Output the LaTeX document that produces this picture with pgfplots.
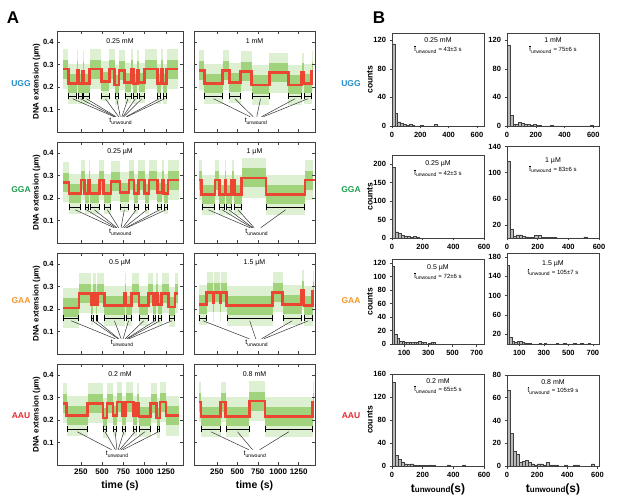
\documentclass[border=0pt]{standalone}
\usepackage{pgfplots}
\pgfplotsset{compat=1.18}
\usepackage{pgfplotstable}
\usepackage{fontspec}
\setmainfont{Liberation Sans}

\definecolor{cloudA}{RGB}{222,240,210}
\definecolor{cloudB}{RGB}{160,211,124}
\definecolor{trred}{RGB}{234,70,50}
\definecolor{cUGG}{RGB}{35,140,200}
\definecolor{cGGA}{RGB}{30,160,80}
\definecolor{cGAA}{RGB}{245,150,40}
\definecolor{cAAU}{RGB}{230,40,45}
\newcommand\fs[1]{\fontsize{#1}{#1}\selectfont}

% step traces: time (s), mean extension (um)
\pgfplotstableread[row sep=\\]{t z\\ 40 0.28\\ 104 0.215\\ 203 0.275\\ 222 0.215\\ 270 0.27\\ 281 0.215\\ 352 0.28\\ 491 0.225\\ 586 0.28\\ 648 0.21\\ 696 0.275\\ 763 0.22\\ 843 0.28\\ 866 0.215\\ 914 0.275\\ 933 0.22\\ 1000 0.28\\ 1150 0.215\\ 1190 0.28\\ 1210 0.215\\ 1257 0.28\\ 1391 0.28\\}\ua
\pgfplotstableread[row sep=\\]{t z\\ 35 0.275\\ 98 0.215\\ 321 0.275\\ 402 0.22\\ 541 0.27\\ 676 0.21\\ 891 0.265\\ 1123 0.21\\ 1287 0.265\\ 1315 0.215\\ 1409 0.27\\ 1429 0.27\\}\ub
\pgfplotstableread[row sep=\\]{t z\\ 41 0.27\\ 112 0.22\\ 254 0.28\\ 293 0.22\\ 341 0.28\\ 352 0.22\\ 467 0.28\\ 518 0.22\\ 606 0.275\\ 708 0.225\\ 814 0.28\\ 873 0.22\\ 925 0.28\\ 1000 0.22\\ 1051 0.28\\ 1150 0.225\\ 1201 0.28\\ 1221 0.22\\ 1276 0.28\\ 1403 0.28\\}\ga
\pgfplotstableread[row sep=\\]{t z\\ 35 0.28\\ 64 0.215\\ 227 0.28\\ 279 0.215\\ 349 0.28\\ 361 0.215\\ 431 0.28\\ 463 0.215\\ 553 0.29\\ 851 0.215\\ 1328 0.28\\ 1429 0.285\\}\gb
\pgfplotstableread[row sep=\\]{t z\\ 45 0.205\\ 230 0.27\\ 373 0.22\\ 396 0.27\\ 428 0.22\\ 444 0.27\\ 526 0.215\\ 763 0.27\\ 775 0.215\\ 846 0.27\\ 933 0.215\\ 1044 0.27\\ 1103 0.22\\ 1134 0.27\\ 1158 0.22\\ 1198 0.27\\ 1281 0.21\\ 1355 0.27\\ 1394 0.27\\}\aa
\pgfplotstableread[row sep=\\]{t z\\ 35 0.22\\ 125 0.275\\ 202 0.23\\ 212 0.275\\ 288 0.23\\ 298 0.275\\ 370 0.215\\ 933 0.275\\ 1055 0.22\\ 1287 0.285\\ 1315 0.215\\ 1422 0.28\\ 1438 0.28\\}\ab
\pgfplotstableread[row sep=\\]{t z\\ 45 0.275\\ 85 0.22\\ 329 0.275\\ 511 0.21\\ 558 0.275\\ 629 0.22\\ 677 0.28\\ 736 0.22\\ 775 0.28\\ 866 0.22\\ 905 0.275\\ 933 0.215\\ 1071 0.275\\ 1142 0.21\\ 1181 0.28\\ 1249 0.22\\ 1406 0.22\\}\ra
\pgfplotstableread[row sep=\\]{t z\\ 35 0.28\\ 56 0.215\\ 297 0.28\\ 358 0.215\\ 646 0.285\\ 838 0.215\\ 1422 0.28\\ 1438 0.28\\}\rb

% unwound intervals (start, end)
\pgfplotstableread[row sep=\\]{a b\\ 104 203\\ 222 270\\ 281 352\\ 491 586\\ 648 696\\ 763 843\\ 866 914\\ 933 1000\\ 1150 1190\\ 1210 1257\\}\uaI
\pgfplotstableread[row sep=\\]{a b\\ 98 321\\ 402 541\\ 676 891\\ 1123 1287\\ 1315 1409\\}\ubI
\pgfplotstableread[row sep=\\]{a b\\ 112 254\\ 293 341\\ 352 467\\ 518 606\\ 708 814\\ 873 925\\ 1000 1051\\ 1150 1201\\ 1221 1276\\}\gaI
\pgfplotstableread[row sep=\\]{a b\\ 64 227\\ 279 349\\ 361 431\\ 463 553\\ 851 1328\\}\gbI
\pgfplotstableread[row sep=\\]{a b\\ 45 230\\ 373 396\\ 428 444\\ 526 763\\ 775 846\\ 933 1044\\ 1103 1134\\ 1158 1198\\ 1281 1355\\}\aaI
\pgfplotstableread[row sep=\\]{a b\\ 35 125\\ 370 933\\ 1055 1287\\ 1315 1422\\}\abI
\pgfplotstableread[row sep=\\]{a b\\ 85 329\\ 511 558\\ 629 677\\ 736 775\\ 866 905\\ 933 1071\\ 1142 1181\\}\raI
\pgfplotstableread[row sep=\\]{a b\\ 56 297\\ 358 646\\ 838 1422\\}\rbI

% green cloud = wide horizontal strokes per level segment, red = mean level
\newcommand\trace[1]{%
  \addplot[jump mark left, cloudA, line width=40pt, line cap=butt] table[x=t, y=z]{#1};
  \addplot[jump mark left, cloudB, line width=19pt, line cap=butt] table[x=t, y=z]{#1};
  \addplot[const plot, trred, line width=2.6pt] table[x=t, y=z]{#1};
}
\newcommand\bars[1]{%
  \addplot[black, line width=0.7pt, |-|, quiver={u=\thisrow{b}-\thisrow{a}, v=0}]
    table[x=a, y expr=0.16]{#1};
}

\pgfplotsset{
  every axis/.append style={/pgf/number format/assume math mode=true, /pgf/number format/1000 sep={}},
  tr/.style={scale only axis, height=101pt, xmin=-30, xmax=1450, ymin=0, ymax=0.45,
    xtick={250,500,750,1000,1250}, ytick={0.1,0.2,0.3,0.4},
    tick align=inside, major tick length=3pt,
    axis line style={black!75, line width=0.7pt}, every tick/.style={black!75, line width=0.5pt},
    tick label style={font=\fs{7.5}\bfseries}, x tick label style={font=\fs{8}\bfseries}, axis on top,
    ylabel shift=-4pt,
    ylabel style={font=\fs{8}\bfseries}, xlabel style={font=\fs{10.5}\bfseries}},
  hs/.style={scale only axis, width=92pt, xmin=0, ymin=0,
    tick align=outside, xtick pos=bottom, ytick pos=left, major tick length=2.5pt,
    axis line style={black!75, line width=0.6pt}, every tick/.style={black!75, line width=0.5pt},
    tick label style={font=\fs{7.5}\bfseries}, ylabel shift=-6pt,
    ylabel style={font=\fs{8.5}\bfseries}, xlabel style={font=\fs{12}\bfseries}},
  hist/.style={ybar interval, fill=gray!55, draw=black!75, line width=0.35pt},
}
\tikzset{
  fan/.style={black!80, line width=0.5pt},
  lab/.style={font=\fs{7}},
  tau/.style={font=\fs{6}},
}
\newcommand\tun{t\textsubscript{unwound}}
\newcommand\taubar{\(\overline{\mbox{t}}\)\textsubscript{unwound}}

\begin{document}
\begin{tikzpicture}
\useasboundingbox (0,0) rectangle (617pt,503pt);

\node[font=\fs{17}\bfseries] at (13pt,485pt) {A};
\node[font=\fs{17}\bfseries] at (379pt,485pt) {B};
\foreach \n/\c/\y in {UGG/cUGG/419, GGA/cGGA/313, GAA/cGAA/202, AAU/cAAU/87}{
  \node[font=\fs{8.5}\bfseries, text=\c] at (21pt,\y pt) {\n};
  \node[font=\fs{8.5}\bfseries, text=\c] at (351pt,\y pt) {\n};
}

% ---- A: time traces ----
\begin{axis}[tr, at={(57pt,371pt)}, width=126pt, xticklabels={}, ylabel={DNA extension (µm)}]
\trace{\ua}
\bars{\uaI}
\pgfplotsinvokeforeach{153.5,246,316.5,538.5,672,803,890,966.5,1170,1233.5}{\draw[fan] (axis cs:#1,0.148) -- (axis cs:{720+0.14*(#1-720)},0.068);}
\node[lab] at (axis cs:720,0.048) {\tun};
\node[lab] at (rel axis cs:0.5,0.9) {0.25 mM};
\end{axis}
\begin{axis}[tr, at={(194pt,371pt)}, width=121pt, xticklabels={}, yticklabels={}]
\trace{\ub}
\bars{\ubI}
\pgfplotsinvokeforeach{209.5,471.5,783.5,1205,1362}{\draw[fan] (axis cs:#1,0.148) -- (axis cs:{730+0.14*(#1-730)},0.068);}
\node[lab] at (axis cs:730,0.048) {\tun};
\node[lab] at (rel axis cs:0.5,0.9) {1 mM};
\end{axis}

\begin{axis}[tr, at={(57pt,260pt)}, width=126pt, xticklabels={}, ylabel={DNA extension (µm)}]
\trace{\ga}
\bars{\gaI}
\pgfplotsinvokeforeach{183,317,409.5,562,761,899,1025.5,1175.5,1248.5}{\draw[fan] (axis cs:#1,0.148) -- (axis cs:{716+0.14*(#1-716)},0.068);}
\node[lab] at (axis cs:716,0.048) {\tun};
\node[lab] at (rel axis cs:0.5,0.9) {0.25 µM};
\end{axis}
\begin{axis}[tr, at={(194pt,260pt)}, width=121pt, xticklabels={}, yticklabels={}]
\trace{\gb}
\bars{\gbI}
\pgfplotsinvokeforeach{145.5,314,396,508,1089.5}{\draw[fan] (axis cs:#1,0.148) -- (axis cs:{737+0.14*(#1-737)},0.068);}
\node[lab] at (axis cs:737,0.048) {\tun};
\node[lab] at (rel axis cs:0.5,0.9) {1 µM};
\end{axis}

\begin{axis}[tr, at={(57pt,149pt)}, width=126pt, xticklabels={}, ylabel={DNA extension (µm)}]
\trace{\aa}
\bars{\aaI}
\pgfplotsinvokeforeach{137.5,384.5,436,644.5,810.5,988.5,1118.5,1178,1318}{\draw[fan] (axis cs:#1,0.148) -- (axis cs:{736+0.14*(#1-736)},0.068);}
\node[lab] at (axis cs:736,0.048) {\tun};
\node[lab] at (rel axis cs:0.5,0.9) {0.5 µM};
\end{axis}
\begin{axis}[tr, at={(194pt,149pt)}, width=121pt, xticklabels={}, yticklabels={}]
\trace{\ab}
\bars{\abI}
\pgfplotsinvokeforeach{80,651.5,1171,1368.5}{\draw[fan] (axis cs:#1,0.148) -- (axis cs:{737+0.14*(#1-737)},0.068);}
\node[lab] at (axis cs:737,0.048) {\tun};
\node[lab] at (rel axis cs:0.5,0.9) {1.5 µM};
\end{axis}

\begin{axis}[tr, at={(57pt,38pt)}, width=126pt, ylabel={DNA extension (µm)}, xlabel={time (s)}]
\trace{\ra}
\bars{\raI}
\pgfplotsinvokeforeach{207,534.5,653,755.5,885.5,1002,1161.5}{\draw[fan] (axis cs:#1,0.148) -- (axis cs:{677+0.14*(#1-677)},0.068);}
\node[lab] at (axis cs:677,0.048) {\tun};
\node[lab] at (rel axis cs:0.5,0.9) {0.2 mM};
\end{axis}
\begin{axis}[tr, at={(194pt,38pt)}, width=121pt, yticklabels={}, xlabel={time (s)}]
\trace{\rb}
\bars{\rbI}
\pgfplotsinvokeforeach{176.5,502,1130}{\draw[fan] (axis cs:#1,0.148) -- (axis cs:{716+0.14*(#1-716)},0.068);}
\node[lab] at (axis cs:716,0.048) {\tun};
\node[lab] at (rel axis cs:0.5,0.9) {0.8 mM};
\end{axis}

% ---- B: histograms of unwound times ----
\begin{axis}[hs, at={(392pt,377pt)}, height=93pt, xmax=650, ymax=130, xtick={0,200,400,600}, ytick={0,40,80,120}, ylabel={counts}]
\addplot[hist] coordinates {(0,115)(20,18)(40,6)(60,4)(80,2)(100,1)(120,2)(140,1)(160,0)(180,0)(200,1)(220,0)(240,0)(260,0)(280,0)(300,2)(320,0)};
\node[lab] at (rel axis cs:0.5,0.92) {0.25 mM};
\node[tau] at (rel axis cs:0.5,0.82) {\taubar{} = 43±3 s};
\end{axis}
\begin{axis}[hs, at={(507pt,377pt)}, height=93pt, xmax=640, ymax=130, xtick={0,200,400,600}, ytick={0,40,80,120}]
\addplot[hist] coordinates {(0,113)(20,15)(40,2)(60,3)(80,5)(100,4)(120,3)(140,2)(160,1)(180,2)(200,1)(220,1)(240,0)(260,0)(280,0)(300,1)(320,0)(340,0)(360,0)(380,0)(400,0)(420,0)(440,0)(460,0)(480,0)(500,0)(520,0)(540,0)(560,0)(580,1)(600,0)};
\node[lab] at (rel axis cs:0.5,0.92) {1 mM};
\node[tau] at (rel axis cs:0.5,0.82) {\taubar{} = 75±6 s};
\end{axis}

\begin{axis}[hs, at={(392pt,265pt)}, height=83pt, xmax=600, ymax=225, xtick={0,200,400,600}, ytick={0,50,100,150,200}, ylabel={counts}]
\addplot[hist] coordinates {(0,192)(20,17)(40,12)(60,7)(80,5)(100,6)(120,1)(140,5)(160,1)(180,0)};
\node[lab] at (rel axis cs:0.5,0.9) {0.25 µM};
\node[tau] at (rel axis cs:0.5,0.78) {\taubar{} = 42±3 s};
\end{axis}
\begin{axis}[hs, at={(507pt,265pt)}, height=92pt, xmax=600, ymax=141, xtick={0,200,400,600}, ytick={20,60,100,140}]
\addplot[hist] coordinates {(0,118)(20,14)(40,3)(60,5)(80,5)(100,3)(120,2)(140,1)(160,1)(180,4)(200,4)(220,1)(240,1)(260,1)(280,1)(300,1)(320,0)(340,0)(360,0)(380,0)(400,0)(420,0)(440,0)(460,0)(480,0)(500,2)(520,0)};
\node[lab] at (rel axis cs:0.5,0.84) {1 µM};
\node[tau] at (rel axis cs:0.5,0.75) {\taubar{} = 83±6 s};
\end{axis}

\begin{axis}[hs, at={(392pt,159pt)}, height=85pt, xmax=760, ymax=126, xtick={100,300,500,700}, ytick={0,20,40,60,80,100,120}, ylabel={counts}]
\addplot[hist] coordinates {(0,115)(20,15)(40,8)(60,4)(80,4)(100,2)(120,2)(140,2)(160,2)(180,3)(200,3)(220,4)(240,3)(260,2)(280,0)(300,1)(320,2)(340,2)(360,0)};
\node[lab] at (rel axis cs:0.5,0.9) {0.5 µM};
\node[tau] at (rel axis cs:0.5,0.8) {\taubar{} = 72±6 s};
\end{axis}
\begin{axis}[hs, at={(507pt,159pt)}, height=91pt, xmax=750, ymax=188, xtick={100,300,500,700}, ytick={20,60,100,140,180}]
\addplot[hist] coordinates {(0,162)(20,14)(40,5)(60,4)(80,5)(100,6)(120,3)(140,2)(160,1)(180,1)(200,0)(220,0)(240,0)(260,1)(280,0)(300,1)(320,0)(340,0)(360,0)(380,0)(400,1)(420,0)(440,0)(460,1)(480,0)(500,0)(520,0)(540,1)(560,0)(580,0)(600,1)(620,0)(640,0)(660,1)(680,0)};
\node[lab] at (rel axis cs:0.5,0.88) {1.5 µM};
\node[tau] at (rel axis cs:0.5,0.79) {\taubar{} = 105±7 s};
\end{axis}

\begin{axis}[hs, at={(392pt,37pt)}, height=92pt, xmax=600, ymax=160, xtick={0,200,400,600}, ytick={0,40,80,120,160}, ylabel={counts}, xlabel={t{\fs{8}unwound}(s)}]
\addplot[hist] coordinates {(0,145)(20,18)(40,12)(60,7)(80,4)(100,3)(120,4)(140,2)(160,1)(180,1)(200,1)(220,1)(240,2)(260,1)(280,0)(300,0)(320,0)(340,0)(360,2)(380,0)(400,0)(420,0)(440,0)(460,2)(480,0)};
\node[lab] at (rel axis cs:0.5,0.92) {0.2 mM};
\node[tau] at (rel axis cs:0.5,0.83) {\taubar{} = 65±5 s};
\end{axis}
\begin{axis}[hs, at={(507pt,37pt)}, height=91pt, xmax=610, ymax=80, xtick={0,200,400,600}, ytick={0,20,40,60,80}, xlabel={t{\fs{8}unwound}(s)}]
\addplot[hist] coordinates {(0,67)(20,29)(40,13)(60,10)(80,3)(100,4)(120,5)(140,3)(160,2)(180,1)(200,2)(220,2)(240,1)(260,3)(280,1)(300,1)(320,1)(340,0)(360,0)(380,1)(400,0)(420,0)(440,1)(460,1)(480,0)(500,0)(520,0)(540,0)(560,2)(580,0)};
\node[lab] at (rel axis cs:0.5,0.92) {0.8 mM};
\node[tau] at (rel axis cs:0.5,0.83) {\taubar{} = 105±9 s};
\end{axis}
\end{tikzpicture}
\end{document}
